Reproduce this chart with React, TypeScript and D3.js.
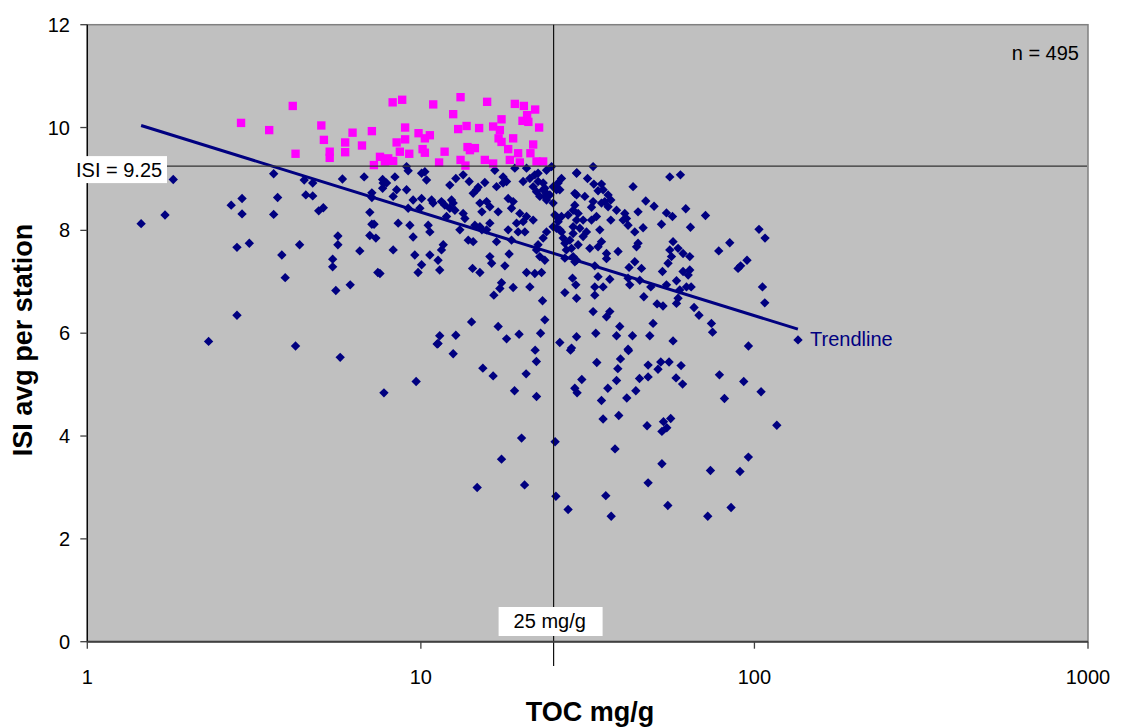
import React from "react";
import * as d3 from "d3";

// ---- data (TOC mg/g, ISI) ----
const aboveThreshold: [number, number][] = [
  [2.89,10.09],[3.51,9.95],[4.13,10.42],[4.21,9.49],[5.03,10.04],[5.12,9.76],[5.33,9.53],[5.33,9.41],[5.93,9.71],[5.93,9.52],
  [6.24,9.90],[6.66,9.65],[7.13,9.93],[7.54,9.43],[7.23,9.27],[7.98,9.40],[8.26,9.35],[7.80,9.34],[8.23,10.49],[8.79,10.54],
  [8.46,9.71],[8.97,10.00],[8.97,9.77],[8.65,9.53],[9.23,9.49],[9.84,9.89],[10.28,9.79],[10.64,9.85],[10.12,9.58],[10.28,9.51],
  [10.89,10.45],[11.78,9.53],[11.34,9.32],[12.50,10.26],[12.94,9.97],[13.71,10.03],[13.15,10.59],[14.95,9.99],[13.80,9.62],[14.52,9.60],
  [13.15,9.37],[13.6,9.26],[15.80,10.50],[16.47,10.02],[17.45,10.16],[17.25,9.95],[17.1,9.79],[17.45,9.72],[15.55,9.37],[16.47,9.30],
  [18.91,9.79],[18.27,9.58],[19.57,9.50],[18.48,9.37],[19.80,9.32],[19.13,10.46],[20.36,10.42],[22.01,10.35],[20.82,10.24],[20.17,10.13],
  [21.0,10.11],[22.62,10.00],[21.71,9.67],[21.3,9.50],[22.22,9.34],[23.26,9.34],[14.03,9.56]
];

const belowLowToc: [number, number][] = [
  [1.81,8.99],[1.45,8.13],[1.71,8.30],[3.62,9.10],[3.72,8.64],[3.62,8.31],[2.91,8.62],[2.70,8.49],[2.91,8.32],[4.47,8.98],
  [4.74,8.92],[4.52,8.69],[4.74,8.67],[4.94,8.38],[5.10,8.44],[5.82,9.00],[6.76,9.04],[7.68,8.99],[7.68,8.82],[7.13,8.73],
  [7.13,8.64],[7.03,8.35],[7.13,8.12],[7.24,8.12],[7.03,7.90],[7.33,7.85],[5.64,7.89],[5.64,7.72],[6.56,7.60],[5.44,7.44],
  [5.44,7.29],[2.81,7.67],[3.06,7.75],[4.33,7.72],[3.83,7.52],[3.92,7.08],[5.56,6.83],[6.14,6.94],[7.43,7.18],[2.81,6.35],
  [2.31,5.84],[4.21,5.75],[5.73,5.53],[7.75,4.84],[7.89,8.92]
];

const belowMidToc: [number, number][] = [
  [9.06,9.24],[9.16,9.16],[8.36,9.04],[7.71,8.92],[8.46,8.79],[9.06,8.79],[8.26,8.66],[10.05,9.11],[10.40,8.98],[10.28,9.14],
  [12.21,8.88],[12.73,9.01],[13.39,9.08],[13.96,8.95],[14.85,8.84],[15.55,8.93],[14.35,8.72],[14.69,8.79],[16.66,9.17],[17.64,9.04],
  [17.64,8.92],[16.86,8.85],[18.07,8.95],[19.13,9.21],[20.74,9.21],[20.26,8.95],[21.22,9.01],[21.96,9.08],[22.46,8.95],[21.71,8.85],
  [23.26,8.92],[22.22,8.75],[23.53,8.82],[23.81,8.72],[22.73,8.66],[24.36,8.69],[24.92,8.85],[25.79,8.92],[26.09,8.79],[26.40,9.01],
  [23.81,9.17],[24.65,9.24],[22.46,9.11],[29.29,9.11],[28.94,8.72],
  [9.48,8.59],[10.05,8.62],[10.77,8.59],[10.88,8.53],[11.53,8.56],[11.80,8.49],[12.36,8.59],[12.50,8.53],[12.21,8.43],[12.65,8.39],
  [9.16,8.43],[9.93,8.43],[13.39,8.33],[13.55,8.23],[11.94,8.27],[15.03,8.53],[15.74,8.56],[16.10,8.46],[15.24,8.36],[17.05,8.36],
  [18.70,8.43],[18.27,8.62],[18.91,8.56],[19.80,8.33],[20.74,8.27],[21.71,8.20],[20.26,8.17],[8.55,8.14],[9.27,8.10],[10.52,8.10],
  [10.64,7.97],[9.48,7.87],[13.09,8.01],[14.52,8.10],[15.03,8.07],[16.10,8.14],[15.24,8.01],[15.74,8.01],[18.27,8.01],[18.70,7.81],
  [19.36,8.14],[19.57,7.97],[20.50,7.97],[16.86,7.78],[13.87,7.81],[14.35,7.78],[23.26,7.85],[23.81,7.97],[22.46,7.72],[22.22,7.62],
  [26.40,7.97],[27.96,7.81],[28.61,7.94],[27.02,7.75],[28.29,7.65],[27.3,7.62],[28.61,7.49],[27.02,7.46],[29.29,7.42],[26.40,8.27],
  [27.63,8.30],[28.61,8.39],[29.29,8.20],[24.92,8.53],[25.50,8.27],[25.50,8.04],[8.26,7.62],[9.59,7.52],[10.64,7.52],[11.53,7.62],
  [11.67,7.72],[11.26,7.42],[10.05,7.33],[9.81,7.18],[11.39,7.23],[16.10,7.49],[16.30,7.36],[18.39,7.54],[17.86,7.31],[23.53,7.42],
  [22.73,7.49],[14.29,7.26],[15.03,7.18],[20.74,7.18],[21.96,7.16],[23.0,7.18],[17.45,6.98],[17.25,6.87],[18.91,6.89],[16.55,6.74],
  [21.22,6.90],[23.16,6.63],[23.53,6.26],[28.49,7.07],[29.14,6.94],[27.02,6.79],[29.29,6.68],[14.19,6.22],[17.05,6.13],[11.39,5.95],
  [12.73,5.96],[11.26,5.80],[18.07,5.89],[19.70,5.98],[22.85,6.00],[26.09,5.82],[7.54,7.16],
  [25.21,8.30],[25.79,8.17],[24.92,8.07],[26.09,8.01],[26.7,7.85],[23.81,8.59],[23.26,8.79],[23.53,8.66],[25.5,8.79]
];

const belowHighToc: [number, number][] = [
  [32.84,9.24],[29.35,9.12],[31.60,9.01],[33.00,8.90],[34.79,8.90],[33.98,8.77],[35.18,8.79],[36.42,8.69],[37.10,8.59],[35.59,8.56],
  [32.84,8.56],[32.48,8.45],[34.79,8.53],[36.42,8.46],[29.29,8.69],[31.01,8.66],[28.94,8.49],[29.61,8.33],[30.65,8.20],[28.61,8.07],
  [29.96,8.04],[31.37,7.97],[30.65,7.88],[32.48,8.20],[33.61,8.27],[34.39,8.01],[34.79,7.78],[33.98,7.68],[32.10,7.65],[36.02,7.55],
  [36.02,7.45],[29.61,7.72],[28.94,7.39],[43.27,8.85],[38.60,8.39],[40.86,8.33],[41.34,8.23],[40.40,8.20],[41.80,8.10],[43.78,7.97],
  [46.37,8.05],[44.78,8.36],[37.10,8.20],[47.23,8.57],[50.02,8.47],[55.75,9.04],[60.0,9.08],[54.49,8.34],[56.79,8.27],[52.64,8.12],
  [62.25,8.42],[64.30,8.06],[71.33,8.29],[39.01,7.59],[44.31,7.68],[44.78,7.75],[43.78,7.39],[45.86,7.26],[42.09,7.28],[57.02,7.78],
  [55.75,7.62],[56.4,7.49],[55.09,7.36],[59.02,7.65],[61.1,7.55],[63.99,7.49],[53.0,7.20],[61.1,7.20],[63.99,7.23],[63.3,7.13],
  [58.39,7.02],[59.72,6.84],[62.55,6.90],[64.6,6.90],[59.02,6.68],[58.39,6.58],[54.49,6.94],[78.16,7.60],[84.33,7.76],[89.31,7.26],
  [95.0,7.42],[90.9,7.31],[103.2,8.02],[107.6,7.85],[105.7,6.90],[107.4,6.59],[33.22,6.90],[33.98,7.10],[35.18,6.90],[36.85,7.05],
  [33.22,6.74],[32.84,6.42],[36.85,6.42],[36.02,6.32],[33.22,7.31],[41.80,7.07],[42.29,6.94],[45.32,7.03],[46.60,6.71],[48.90,6.90],
  [51.07,6.57],[53.2,6.53],[49.68,6.19],[65.92,6.50],[68.2,6.35],[74.31,6.19],[74.9,6.02],[39.47,6.13],[38.6,5.95],[33.45,6.00],
  [29.29,5.93],[43.09,5.95],[48.56,5.95],[57.02,5.85],[95.94,5.75],[135.1,5.87],[28.29,5.71],[41.8,5.69]
];

const belowLowIsi: [number, number][] = [
  [11.19,5.79],[12.50,5.60],[22.01,5.67],[22.2,5.45],[15.34,5.32],[16.47,5.17],[20.68,5.21],[9.68,5.06],[19.09,4.88],[22.22,4.77],
  [20.04,3.96],[17.45,3.55],[14.75,3.00],[20.46,3.05],[25.26,3.89],[25.4,2.83],[27.63,2.57],[28.1,5.67],[33.68,5.43],[39.67,5.50],
  [41.92,5.66],[38.94,5.31],[38.6,5.08],[30.37,5.10],[28.94,4.93],[29.4,4.84],[36.35,4.93],[34.79,4.69],[41.43,4.74],[44.10,4.88],
  [45.23,5.12],[48.0,5.38],[48.0,5.15],[52.39,5.44],[55.47,5.44],[51.4,5.30],[60.26,5.37],[58.21,5.13],[60.9,5.01],[78.54,5.19],
  [92.88,5.06],[104.7,4.86],[81.3,4.73],[35.18,4.33],[39.20,4.40],[47.66,4.20],[53.37,4.28],[56.1,4.34],[54.6,4.16],[52.8,4.09],
  [116.7,4.21],[38.2,3.75],[52.8,3.46],[48.0,3.09],[73.81,3.33],[90.5,3.31],[95.9,3.59],[35.84,2.84],[37.2,2.44],[55.0,2.65],
  [72.45,2.44],[85.1,2.61]
];

const trendToc = [1.45, 135];
const trendIsi = [10.04, 6.08];
const isiThreshold = 9.25;
const tocThreshold = 25;
const xTicks = [1, 10, 100, 1000];
const yTicks = [0, 2, 4, 6, 8, 10, 12];
const sampleLabel = "n = 495";

const W = 1121;
const H = 727;
const FONT = "'Liberation Sans', Arial, Helvetica, sans-serif";

export default function App() {
  const x = d3.scaleLog().domain([1, 1000]).range([87.3, 1088]);
  const y = d3.scaleLinear().domain([0, 12]).range([641.7, 24.7]);
  const [x0, x1] = x.range();
  const [yb, yt] = y.range();

  const navy = [...belowLowToc, ...belowMidToc, ...belowHighToc, ...belowLowIsi];
  const diamond = d3.symbol(d3.symbolSquare, 44)()!;
  const square = d3.symbol(d3.symbolSquare, 70)()!;
  const trendLine = d3
    .line<number>()
    .x((d, i) => x(trendToc[i]))
    .y((d) => y(d))(trendIsi)!;

  const xt = x(tocThreshold);
  const yi = y(isiThreshold);

  return (
    <div style={{ position: "absolute", left: 0, top: 0 }}>
      <svg width={W} height={H} style={{ display: "block", background: "#fff" }} fontFamily={FONT}>
        <rect x={x0} y={yt} width={x1 - x0} height={yb - yt} fill="#C0C0C0" stroke="#808080" strokeWidth={1.5} />

        {navy.map((d, i) => (
          <path key={"n" + i} d={diamond} transform={`translate(${x(d[0])},${y(d[1])}) rotate(45)`} fill="#000080" />
        ))}
        {aboveThreshold.map((d, i) => (
          <path key={"p" + i} d={square} transform={`translate(${x(d[0])},${y(d[1])})`} fill="#FF00FF" />
        ))}

        <path d={trendLine} stroke="#000080" strokeWidth={3} fill="none" />

        <line x1={x0} x2={x1 - 1} y1={yi} y2={yi} stroke="#333" strokeWidth={1.2} />
        <line x1={xt} x2={xt} y1={yt} y2={666} stroke="#111" strokeWidth={1.2} />

        {/* axes */}
        <line x1={x0} x2={x0} y1={yt} y2={yb} stroke="#000" strokeWidth={1.3} />
        <line x1={x0} x2={x1} y1={yb} y2={yb} stroke="#404040" strokeWidth={2} />
        {yTicks.map((t) => (
          <g key={"yt" + t}>
            <line x1={x0 - 7} x2={x0} y1={y(t)} y2={y(t)} stroke="#404040" strokeWidth={1.3} />
            <text x={70} y={y(t) + 7} textAnchor="end" fontSize={20} fill="#000">
              {t}
            </text>
          </g>
        ))}
        {xTicks.map((t) => (
          <g key={"xt" + t}>
            <line x1={x(t)} x2={x(t)} y1={yb} y2={yb + 7} stroke="#404040" strokeWidth={1.3} />
            <text x={x(t)} y={684} textAnchor="middle" fontSize={20} fill="#000">
              {t}
            </text>
          </g>
        ))}

        {/* annotation boxes */}
        <rect x={74} y={yi - 10} width={93} height={27} fill="#fff" />
        <text x={76} y={yi + 10.5} fontSize={20} fill="#000">ISI = 9.25</text>

        <rect x={xt - 55} y={607} width={104} height={29} fill="#fff" />
        <text x={xt - 40} y={628} fontSize={20} fill="#000">25 mg/g</text>

        <text x={810} y={346} fontSize={20} fill="#000080">Trendline</text>
        <text x={1079} y={60} fontSize={20} textAnchor="end" fill="#000">{sampleLabel}</text>

        {/* axis titles */}
        <text x={590} y={721} textAnchor="middle" fontSize={27} fontWeight="bold" fill="#000">TOC mg/g</text>
        <text transform="translate(32,340) rotate(-90)" textAnchor="middle" fontSize={27} fontWeight="bold" fill="#000">
          ISI avg per station
        </text>
      </svg>
    </div>
  );
}
